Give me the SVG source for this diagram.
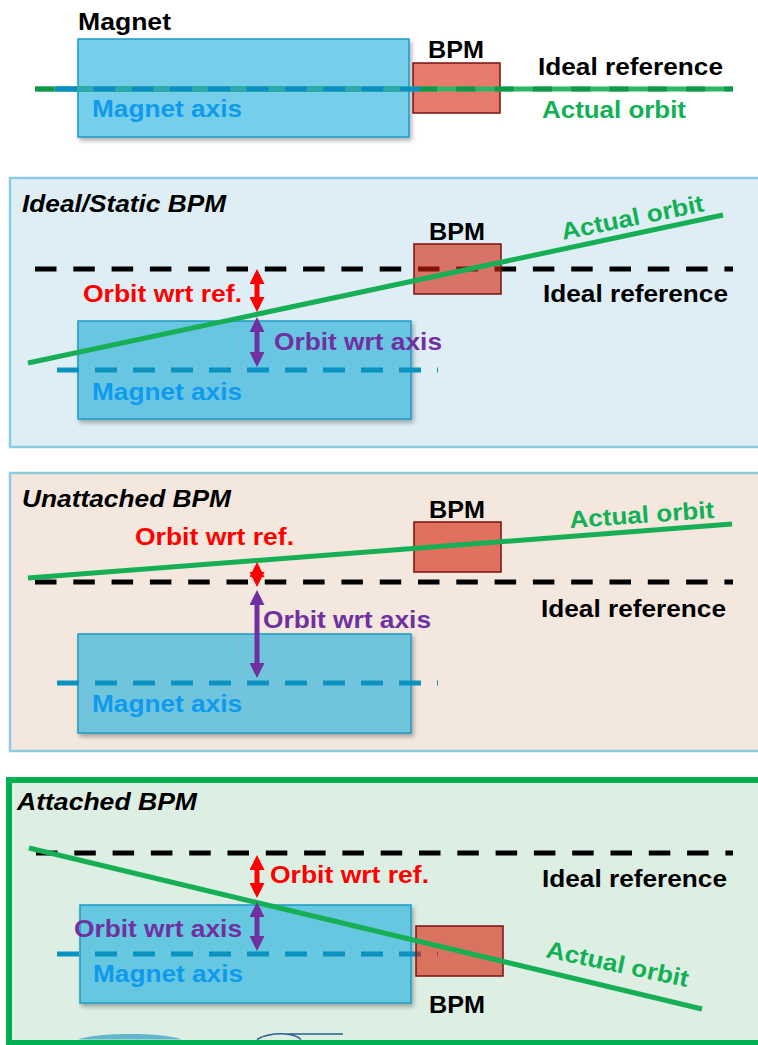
<svg xmlns="http://www.w3.org/2000/svg" width="758" height="1045" viewBox="0 0 758 1045">
  <defs>
    <style>
      text { font-family: "Liberation Sans", Arial, sans-serif; font-weight: bold; font-size: 24px; }
      .title { font-style: italic; fill: #000; }
      .blk { fill: #000; }
      .red { fill: #FF0000; }
      .pur { fill: #7030A0; }
      .grn { fill: #12B055; }
      .blu { fill: #0F9AEE; }
      .bpm { fill: #D72109; fill-opacity: 0.6; stroke: #7A1010; stroke-width: 1.5; }
      .magnet { stroke: #1B9BC6; stroke-width: 1.5; filter: url(#shadow); }
      .ref { stroke: #000; stroke-width: 5; stroke-dasharray: 21.5 16.8; fill: none; }
      .axis { stroke: #0A93C0; stroke-width: 5; stroke-dasharray: 22 16; fill: none; }
      .orbit { stroke: #17AF55; stroke-width: 5; fill: none; }
      .arr-red { stroke: #FF0000; stroke-width: 5; marker-start: url(#headRed); marker-end: url(#headRed); }
      .arr-pur { stroke: #7030A0; stroke-width: 5; marker-start: url(#headPur); marker-end: url(#headPur); }
    </style>
    <filter id="shadow" x="-5%" y="-5%" width="115%" height="120%">
      <feDropShadow dx="2" dy="3" stdDeviation="2" flood-color="#000" flood-opacity="0.3"/>
    </filter>
    <marker id="headRed" viewBox="0 0 15 15" refX="10" refY="7.5" markerWidth="15" markerHeight="15" markerUnits="userSpaceOnUse" orient="auto-start-reverse">
      <path d="M0,0 L15,7.5 L0,15 Z" fill="#FF0000"/>
    </marker>
    <marker id="headPur" viewBox="0 0 15 15" refX="10" refY="7.5" markerWidth="15" markerHeight="15" markerUnits="userSpaceOnUse" orient="auto-start-reverse">
      <path d="M0,0 L15,7.5 L0,15 Z" fill="#7030A0"/>
    </marker>
  </defs>

  <rect width="758" height="1045" fill="#FFFFFF"/>

  <!-- Legend: all three lines coincide -->
  <g id="legend">
    <g id="legend-magnet">
      <rect class="magnet" x="78" y="39" width="331" height="98" fill="#76CFEA"/>
      <text class="blk" x="78" y="30" textLength="93" lengthAdjust="spacingAndGlyphs">Magnet</text>
    </g>
    <g id="legend-bpm">
      <rect class="bpm" x="413" y="63" width="87" height="50"/>
      <text class="blk" x="428" y="58" textLength="56" lengthAdjust="spacingAndGlyphs">BPM</text>
    </g>
    <g id="legend-lines">
      <line x1="35" y1="89" x2="733" y2="89" stroke="#2DB665" stroke-width="5"/>
      <line x1="35" y1="89" x2="733" y2="89" stroke="#0E9A48" stroke-width="5" stroke-dasharray="19 19.3"/>
      <line x1="55" y1="89" x2="400" y2="89" stroke="#2EAAB2" stroke-width="5"/>
      <line x1="55" y1="89" x2="420" y2="89" stroke="#0A8FC3" stroke-width="5" stroke-dasharray="22 16.3"/>
    </g>
    <text class="blk" x="538" y="75" textLength="185" lengthAdjust="spacingAndGlyphs">Ideal reference</text>
    <text class="blu" x="92" y="117" textLength="150" lengthAdjust="spacingAndGlyphs">Magnet axis</text>
    <text class="grn" x="542" y="118" textLength="144" lengthAdjust="spacingAndGlyphs">Actual orbit</text>
  </g>

  <!-- Case 1: ideal / static BPM -->
  <g id="panel-static">
    <rect x="10" y="178" width="760" height="269" fill="#DEEEF4" stroke="#8DCCE0" stroke-width="2.5"/>
    <text class="title" x="22" y="212" textLength="204" lengthAdjust="spacingAndGlyphs">Ideal/Static BPM</text>
    <line class="ref" x1="35" y1="269" x2="733" y2="269"/>
    <g id="static-magnet">
      <rect class="magnet" x="78" y="321" width="333" height="98" fill="#69C6E3"/>
      <line class="axis" x1="57" y1="370" x2="438" y2="370"/>
      <text class="blu" x="92" y="400" textLength="150" lengthAdjust="spacingAndGlyphs">Magnet axis</text>
    </g>
    <g id="static-bpm">
      <rect class="bpm" x="414" y="244" width="87" height="50"/>
      <text class="blk" x="429" y="240" textLength="56" lengthAdjust="spacingAndGlyphs">BPM</text>
    </g>
    <line class="orbit" x1="28" y1="363" x2="723" y2="215"/>
    <text class="grn" transform="translate(563,240) rotate(-11.5)" textLength="145" lengthAdjust="spacingAndGlyphs">Actual orbit</text>
    <text class="blk" x="543" y="302" textLength="185" lengthAdjust="spacingAndGlyphs">Ideal reference</text>
    <text class="red" x="83" y="302" textLength="159" lengthAdjust="spacingAndGlyphs">Orbit wrt ref.</text>
    <text class="pur" x="274" y="350" textLength="168" lengthAdjust="spacingAndGlyphs">Orbit wrt axis</text>
  </g>

  <!-- Case 2: BPM not attached to the magnet -->
  <g id="panel-unattached">
    <rect x="10" y="473" width="760" height="278" fill="#F3E7DE" stroke="#8DCCE0" stroke-width="2.5"/>
    <text class="title" x="22" y="507" textLength="209" lengthAdjust="spacingAndGlyphs">Unattached BPM</text>
    <line class="ref" x1="35" y1="582" x2="733" y2="582"/>
    <g id="unattached-magnet">
      <rect class="magnet" x="78" y="634" width="333" height="99" fill="#70C5DD"/>
      <line class="axis" x1="57" y1="683" x2="438" y2="683"/>
      <text class="blu" x="92" y="712" textLength="150" lengthAdjust="spacingAndGlyphs">Magnet axis</text>
    </g>
    <g id="unattached-bpm">
      <rect class="bpm" x="414" y="522" width="87" height="50"/>
      <text class="blk" x="429" y="518" textLength="56" lengthAdjust="spacingAndGlyphs">BPM</text>
    </g>
    <line class="orbit" x1="28" y1="578" x2="732" y2="524"/>
    <text class="grn" transform="translate(570,528) rotate(-4)" textLength="145" lengthAdjust="spacingAndGlyphs">Actual orbit</text>
    <text class="red" x="135" y="545" textLength="159" lengthAdjust="spacingAndGlyphs">Orbit wrt ref.</text>
    <text class="blk" x="541" y="617" textLength="185" lengthAdjust="spacingAndGlyphs">Ideal reference</text>
    <text class="pur" x="263" y="628" textLength="168" lengthAdjust="spacingAndGlyphs">Orbit wrt axis</text>
  </g>

  <!-- Case 3: BPM attached to the magnet -->
  <g id="panel-attached">
    <rect x="9" y="780" width="760" height="263" fill="#DDEEE3" stroke="#00B050" stroke-width="6"/>
    <path d="M78,1039.5 C95,1032 165,1032 182,1039.5 Z" fill="#62B6CB"/>
    <path d="M257,1039.5 Q268,1033 286,1034 L343,1034 M286,1034 Q296,1035 301,1039.5" fill="none" stroke="#2D5C8E" stroke-width="1.5"/>
    <text class="title" x="17" y="810" textLength="180" lengthAdjust="spacingAndGlyphs">Attached BPM</text>
    <line class="ref" x1="36" y1="853" x2="733" y2="853"/>
    <g id="attached-magnet">
      <rect class="magnet" x="80" y="905" width="331" height="98" fill="#66C7E1"/>
      <line class="axis" x1="57" y1="954" x2="438" y2="954"/>
      <text class="blu" x="93" y="982" textLength="150" lengthAdjust="spacingAndGlyphs">Magnet axis</text>
    </g>
    <g id="attached-bpm">
      <rect class="bpm" x="416" y="926" width="87" height="50"/>
      <text class="blk" x="429" y="1013" textLength="56" lengthAdjust="spacingAndGlyphs">BPM</text>
    </g>
    <line class="orbit" x1="29" y1="848" x2="702" y2="1009"/>
    <text class="grn" transform="translate(545,957) rotate(12)" textLength="145" lengthAdjust="spacingAndGlyphs">Actual orbit</text>
    <text class="red" x="270" y="883" textLength="159" lengthAdjust="spacingAndGlyphs">Orbit wrt ref.</text>
    <text class="blk" x="542" y="887" textLength="185" lengthAdjust="spacingAndGlyphs">Ideal reference</text>
    <text class="pur" x="74" y="937" textLength="168" lengthAdjust="spacingAndGlyphs">Orbit wrt axis</text>
  </g>

  <!-- Offset arrows -->
  <g id="connectors">
    <line class="arr-red" x1="257" y1="274" x2="257" y2="307"/>
    <line class="arr-pur" x1="257" y1="322" x2="257" y2="362"/>
    <line class="arr-red" x1="257" y1="567" x2="257" y2="582"/>
    <line class="arr-pur" x1="257" y1="595" x2="257" y2="673"/>
    <line class="arr-red" x1="257" y1="860" x2="257" y2="893"/>
    <line class="arr-pur" x1="257" y1="907" x2="257" y2="946"/>
  </g>
</svg>
